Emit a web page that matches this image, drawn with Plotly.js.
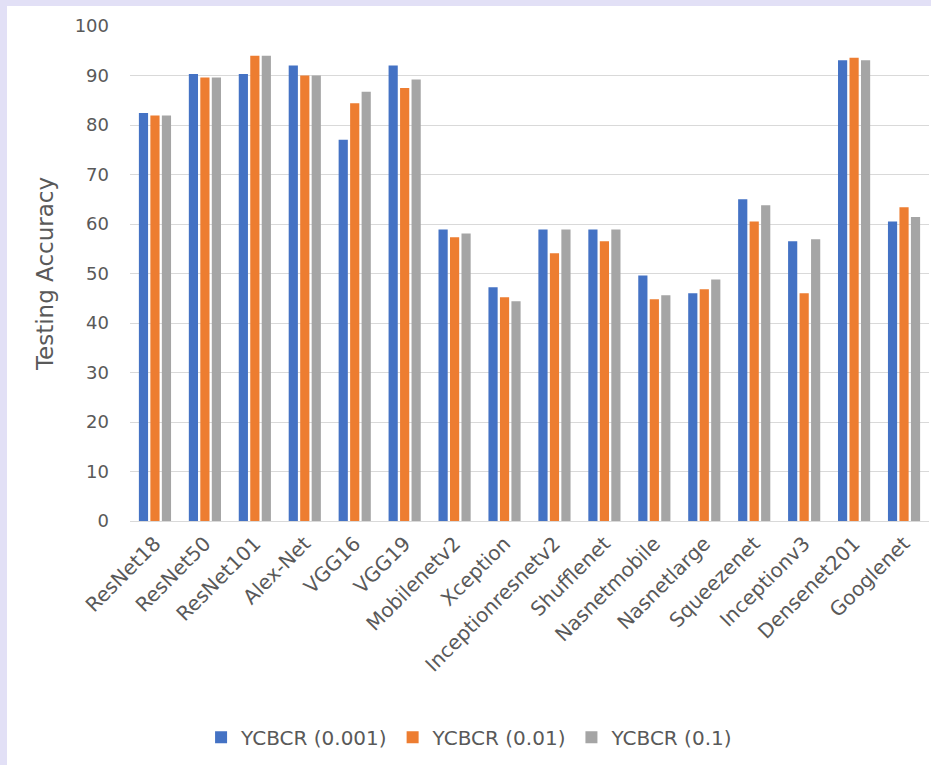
<!DOCTYPE html>
<html>
<head>
<meta charset="utf-8">
<script src="https://cdn.plot.ly/plotly-3.0.1.min.js"></script>
<style>
  html, body { margin: 0; padding: 0; background: #e2e0f6; width: 931px; height: 765px; overflow: hidden; }
  #chart { position: absolute; left: 7px; top: 6px; width: 924px; height: 759px; background: #ffffff; }
</style>
</head>
<body>
<div id="chart"></div>
<script>
// Model names along the x axis
const models = [
  "ResNet18", "ResNet50", "ResNet101", "Alex-Net", "VGG16", "VGG19",
  "Mobilenetv2", "Xception", "Inceptionresnetv2", "Shufflenet",
  "Nasnetmobile", "Nasnetlarge", "Squeezenet", "Inceptionv3",
  "Densenet201", "Googlenet"
];

// Testing accuracy per learning rate
const acc001 = [82.4, 90.3, 90.3, 92.0, 77.0, 92.0, 58.9, 47.2, 58.9, 58.9, 49.6, 46.0, 65.0, 56.5, 93.1, 60.5];
const acc01  = [81.9, 89.6, 94.0, 90.0, 84.4, 87.5, 57.3, 45.2, 54.1, 56.5, 44.8, 46.8, 60.5, 46.0, 93.6, 63.4];
const acc1   = [81.9, 89.6, 94.0, 90.0, 86.7, 89.2, 58.1, 44.4, 58.9, 58.9, 45.6, 48.8, 63.8, 56.9, 93.1, 61.4];

const seriesNames = ["YCBCR (0.001)", "YCBCR (0.01)", "YCBCR (0.1)"];
const seriesColors = ["#4472C4", "#ED7D31", "#A5A5A5"];
const yTicks = [0, 10, 20, 30, 40, 50, 60, 70, 80, 90, 100];

const font = "'DejaVu Sans', 'Open Sans', sans-serif";
const textColor = "#595959";

const traces = [acc001, acc01, acc1].map((vals, i) => ({
  type: "bar",
  name: seriesNames[i],
  x: models,
  y: vals,
  marker: { color: seriesColors[i] },
  hoverinfo: "x+y+name"
}));

const layout = {
  width: 924,
  height: 759,
  paper_bgcolor: "#ffffff",
  plot_bgcolor: "#ffffff",
  margin: { l: 123, r: 2, t: 20, b: 244 },
  barmode: "group",
  bargap: 0.31,
  bargroupgap: 0.2,
  font: { family: font, color: textColor, size: 18 },
  xaxis: {
    type: "category",
    tickangle: -45,
    tickfont: { family: font, size: 20, color: textColor },
    ticklabelstandoff: 6,
    showgrid: false,
    showline: false,
    zeroline: false,
    ticks: ""
  },
  yaxis: {
    range: [0, 100],
    tickvals: yTicks,
    ticktext: yTicks.map(String),
    tickfont: { family: font, size: 18, color: textColor },
    ticklabelstandoff: 20,
    showgrid: true,
    gridcolor: "#d9d9d9",
    gridwidth: 1,
    zeroline: true,
    zerolinecolor: "#d9d9d9",
    zerolinewidth: 1,
    showline: false,
    title: { text: "Testing Accuracy", font: { family: font, size: 23, color: textColor }, standoff: 14 }
  },
  showlegend: true,
  legend: {
    orientation: "h",
    x: 0.425,
    xanchor: "center",
    y: -0.437,
    yanchor: "middle",
    font: { family: font, size: 20, color: textColor },
    itemwidth: 30,
    traceorder: "normal"
  }
};

Plotly.newPlot("chart", traces, layout, { displayModeBar: false, staticPlot: true });
</script>
</body>
</html>
